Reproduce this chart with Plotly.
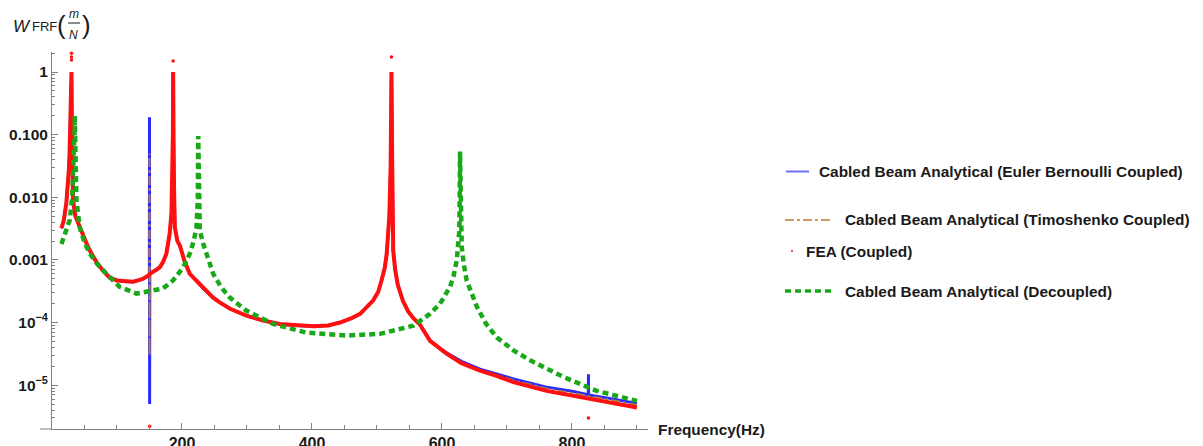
import plotly.graph_objects as go

# ---------------- data ----------------
freq_coupled = [14.5, 18, 22, 24.7, 26, 27, 28.5, 29.5, 30, 30.5, 31.5, 32.4, 36, 42.7, 48, 55.5,
                62, 68.3, 78, 88.9, 100, 114.5, 125, 135, 140, 148, 149.8, 150.0, 150.2, 150.5,
                153, 160, 165.8, 171, 176, 181, 183.8, 185.3, 186, 186.4, 186.8, 187.5, 189,
                193, 196.7, 204, 212, 222, 232.5, 248, 258, 274, 299, 325, 350, 375, 402, 425,
                443, 460, 474, 494, 502, 507, 512, 515, 519, 521, 522.3, 523.5, 525, 528, 532,
                540, 548, 556, 566, 581.6, 595, 607, 630, 658.6, 685, 710, 761, 800, 823,
                825.2, 825.4, 825.6, 860, 900]

euler_vals = [3.2e-3, 4.2e-3, 8.0e-3, 1.66e-2, 0.028, 0.05, 0.16, 0.6, 1.0, 0.2, 0.03, 8.9e-3,
              5.0e-3, 3.3e-3, 2.4e-3, 1.6e-3, 1.2e-3, 9.3e-4, 6.8e-4, 5.2e-4, 4.7e-4, 4.5e-4,
              4.5e-4, 4.8e-4, 5.0e-4, 5.6e-4, 5.7e-4, 0.19, 5.0e-6, 6.0e-4, 6.3e-4, 6.9e-4,
              7.6e-4, 9.3e-4, 1.26e-3, 2.6e-3, 5.5e-3, 0.02, 0.1, 1.0, 0.1, 0.02, 3.3e-3,
              2.0e-3, 1.7e-3, 9.5e-4, 6.0e-4, 4.7e-4, 3.5e-4, 2.5e-4, 2.1e-4, 1.66e-4, 1.29e-4,
              1.08e-4, 9.5e-5, 9.0e-5, 8.7e-5, 9.0e-5, 1.0e-4, 1.16e-4, 1.38e-4, 2.24e-4,
              3.1e-4, 4.7e-4, 7.5e-4, 1.26e-3, 5.0e-3, 0.03, 1.0, 0.03, 1.4e-3, 7.0e-4, 4.0e-4,
              2.2e-4, 1.5e-4, 1.17e-4, 9.3e-5, 5.2e-5, 4.0e-5, 3.3e-5, 2.4e-5, 1.8e-5, 1.5e-5,
              1.26e-5, 9.3e-6, 8.0e-6, 7.1e-6, 7.0e-6, 1.5e-5, 7.0e-6, 6.1e-6, 5.1e-6]

timo_vals = [3.2e-3, 4.2e-3, 8.0e-3, 1.66e-2, 0.028, 0.05, 0.16, 0.6, 1.0, 0.2, 0.03, 8.9e-3,
             5.0e-3, 3.3e-3, 2.4e-3, 1.6e-3, 1.2e-3, 9.3e-4, 6.8e-4, 5.2e-4, 4.7e-4, 4.5e-4,
             4.5e-4, 4.8e-4, 5.0e-4, 5.6e-4, 5.7e-4, 0.05, 3.0e-5, 6.0e-4, 6.3e-4, 6.9e-4,
             7.6e-4, 9.3e-4, 1.26e-3, 2.6e-3, 5.5e-3, 0.02, 0.1, 1.0, 0.1, 0.02, 3.3e-3,
             2.0e-3, 1.7e-3, 9.5e-4, 6.0e-4, 4.7e-4, 3.5e-4, 2.5e-4, 2.1e-4, 1.66e-4, 1.29e-4,
             1.08e-4, 9.5e-5, 9.0e-5, 8.7e-5, 9.0e-5, 1.0e-4, 1.16e-4, 1.38e-4, 2.24e-4,
             3.1e-4, 4.7e-4, 7.5e-4, 1.26e-3, 5.0e-3, 0.03, 1.0, 0.03, 1.4e-3, 7.0e-4, 4.0e-4,
             2.2e-4, 1.5e-4, 1.17e-4, 9.3e-5, 5.1e-5, 3.9e-5, 3.2e-5, 2.3e-5, 1.75e-5, 1.45e-5,
             1.2e-5, 8.8e-6, 7.5e-6, 6.7e-6, 6.6e-6, 6.6e-6, 6.6e-6, 5.8e-6, 4.8e-6]

fea_vals = [3.2e-3, 4.2e-3, 8.0e-3, 1.66e-2, 0.028, 0.05, 0.16, 0.6, 1.0, 0.2, 0.03, 8.9e-3,
            5.0e-3, 3.3e-3, 2.4e-3, 1.6e-3, 1.2e-3, 9.3e-4, 6.8e-4, 5.2e-4, 4.7e-4, 4.5e-4,
            4.5e-4, 4.8e-4, 5.0e-4, 5.6e-4, 5.7e-4, 5.8e-4, 5.9e-4, 6.0e-4, 6.3e-4, 6.9e-4,
            7.6e-4, 9.3e-4, 1.26e-3, 2.6e-3, 5.5e-3, 0.02, 0.1, 1.0, 0.1, 0.02, 3.3e-3,
            2.0e-3, 1.7e-3, 9.5e-4, 6.0e-4, 4.7e-4, 3.5e-4, 2.5e-4, 2.1e-4, 1.66e-4, 1.29e-4,
            1.08e-4, 9.5e-5, 9.0e-5, 8.7e-5, 9.0e-5, 1.0e-4, 1.16e-4, 1.38e-4, 2.24e-4,
            3.1e-4, 4.7e-4, 7.5e-4, 1.26e-3, 5.0e-3, 0.03, 1.0, 0.03, 1.4e-3, 7.0e-4, 4.0e-4,
            2.2e-4, 1.5e-4, 1.17e-4, 9.3e-5, 5.1e-5, 3.9e-5, 3.2e-5, 2.25e-5, 1.7e-5, 1.4e-5,
            1.12e-5, 8.1e-6, 6.8e-6, 6.0e-6, 6.0e-6, 6.0e-6, 6.0e-6, 5.2e-6, 4.4e-6]

fea_outlier_freq = [30, 30, 30, 186.4, 522.3, 150.2, 825.4]
fea_outlier_vals = [2.0, 1.74, 1.55, 1.5, 1.74, 2.2e-6, 3.0e-6]

freq_decoupled = [14.5, 20, 27.3, 31, 33.5, 34.6, 35, 35.4, 36.5, 37.6, 42.7, 50, 58, 70, 83.8, 104,
                  130, 155.5, 171, 186.3, 201.7, 212, 218, 222.3, 224.3, 225, 225.6, 227.4, 232,
                  237.7, 248, 260, 273.6, 299, 340, 391.7, 453, 504.6, 556, 581.6, 597, 612.4,
                  618, 622.7, 626.8, 627.8, 628.5, 630.4, 634, 638, 653.5, 668, 684.3, 710,
                  735.6, 787, 838, 900]
decoupled_vals = [1.8e-3, 2.5e-3, 4.3e-3, 0.01, 0.03, 0.1, 0.2, 0.1, 0.02, 8.9e-3, 3.3e-3, 1.9e-3,
                  1.26e-3, 8.5e-4, 6.0e-4, 3.7e-4, 2.9e-4, 3.2e-4, 3.5e-4, 4.7e-4, 7.6e-4, 1.26e-3,
                  2.0e-3, 3.3e-3, 8.9e-3, 0.095, 0.01, 3.0e-3, 1.9e-3, 1.26e-3, 6.0e-4, 3.7e-4,
                  2.5e-4, 1.55e-4, 9.5e-5, 6.9e-5, 6.2e-5, 6.6e-5, 8.9e-5, 1.38e-4, 2.0e-4,
                  3.7e-4, 5.6e-4, 9.8e-4, 3.0e-3, 0.054, 5.0e-3, 1.6e-3, 8.0e-4, 4.7e-4, 1.8e-4,
                  9.5e-5, 5.8e-5, 3.6e-5, 2.5e-5, 1.35e-5, 8.1e-6, 5.6e-6]

x_tick_vals = [200, 400, 600, 800]
x_minor_vals = [50, 100, 150, 250, 300, 350, 450, 500, 550, 650, 700, 750, 850, 900]
y_tick_vals = [1e-5, 1e-4, 1e-3, 1e-2, 1e-1, 1]
y_tick_text = ["10<sup>\u22125</sup>", "10<sup>\u22124</sup>", "0.001", "0.010", "0.100", "1"]
y_minor_vals = [m * 10 ** e for e in range(-6, 1) for m in range(2, 10)]

legend_labels = ["Cabled Beam Analytical (Euler Bernoulli Coupled)",
                 "Cabled Beam Analytical (Timoshenko Coupled)",
                 "FEA (Coupled)",
                 "Cabled Beam Analytical (Decoupled)"]

# ---------------- layout geometry ----------------
# positions below are page pixels; the page body adds an 8 px offset to the figure
OFF = 8
W, H = 1203, 446
PL, PR, PT, PB = 52 - OFF, 648 - OFF, 52 - OFF, 429 - OFF


def px(x):
    return (x - OFF - PL) / (PR - PL)


def py(y):
    return (PB - (y - OFF)) / (PB - PT)


FONT = "Liberation Sans, Arial, sans-serif"
TXT = "#1a1a1a"
AX = "#808080"
BLUE = "#2a2aff"
BROWN = "#b97a3c"
RED = "#ff1010"
GREEN = "#18a818"

fig = go.Figure()
fig.add_trace(go.Scatter(x=freq_coupled, y=euler_vals, mode="lines",
                         line=dict(color=BLUE, width=3), name=legend_labels[0], showlegend=False))
fig.add_trace(go.Scatter(x=freq_coupled, y=timo_vals, mode="lines",
                         line=dict(color=BROWN, width=2, dash="dashdot"), name=legend_labels[1],
                         showlegend=False))
fig.add_trace(go.Scatter(x=freq_coupled, y=fea_vals, mode="lines",
                         line=dict(color=RED, width=4), name=legend_labels[2], showlegend=False))
fig.add_trace(go.Scatter(x=fea_outlier_freq, y=fea_outlier_vals, mode="markers",
                         marker=dict(color=RED, size=3.5), name=legend_labels[2], showlegend=False,
                         cliponaxis=False))
fig.add_trace(go.Scatter(x=freq_decoupled, y=decoupled_vals, mode="lines",
                         line=dict(color=GREEN, width=4.5, dash="6px,4px"), name=legend_labels[3],
                         showlegend=False))

fig.update_xaxes(range=[0, 917], automargin=False, showline=True, linecolor=AX,
                 linewidth=1, showgrid=False, zeroline=False,
                 tickmode="array", tickvals=x_tick_vals, ticks="inside", ticklen=6,
                 tickcolor=AX, ticklabelstandoff=0,
                 minor=dict(tickmode="array", tickvals=x_minor_vals, ticks="inside", ticklen=4,
                            tickcolor=AX, showgrid=False),
                 tickfont=dict(family=FONT, size=16, color=TXT, weight="bold"))
fig.update_yaxes(type="log", range=[-5.70, 0.32], automargin=False, showline=True,
                 linecolor=AX, linewidth=1, showgrid=False, zeroline=False,
                 tickmode="array", tickvals=y_tick_vals, ticktext=y_tick_text,
                 ticks="inside", ticklen=6, tickcolor=AX, ticklabelstandoff=0,
                 minor=dict(tickmode="array", tickvals=y_minor_vals, ticks="inside", ticklen=3,
                            tickcolor=AX, showgrid=False),
                 tickfont=dict(family=FONT, size=15.5, color=TXT, weight="bold"))

ann = []
shapes = []


def text(x, y, s, size=15.4, bold=True, italic=False, anchor="left"):
    ann.append(dict(x=px(x), y=py(y), xref="paper", yref="paper", text=s, showarrow=False,
                    xanchor=anchor, yanchor="middle", borderpad=0,
                    font=dict(family=FONT, size=size, color=TXT,
                              weight="bold" if bold else "normal",
                              style="italic" if italic else "normal")))


# small extension of the x axis line to the left of the y axis (as in the reference)
shapes.append(dict(type="line", xref="paper", yref="paper", x0=px(40), x1=px(52),
                   y0=py(429), y1=py(429), line=dict(color=AX, width=1)))

# axis label
text(657, 429, "Frequency(Hz)", size=15.4)

# y-axis title: W FRF(m/N)
text(12, 26, "W", size=17, bold=False, italic=True)
text(31, 26, "FRF", size=13, bold=False)
text(61, 25, "(", size=26, bold=False, anchor="center")
text(73.5, 14, "m", size=12, bold=False, italic=True, anchor="center")
text(73.5, 35, "N", size=12, bold=False, italic=True, anchor="center")
text(86, 25, ")", size=26, bold=False, anchor="center")
shapes.append(dict(type="line", xref="paper", yref="paper", x0=px(68), x1=px(80),
                   y0=py(23), y1=py(23), line=dict(color=TXT, width=1)))

# manual legend
shapes.append(dict(type="line", xref="paper", yref="paper", x0=px(786), x1=px(809),
                   y0=py(171.5), y1=py(171.5), line=dict(color="#6e6eff", width=2)))
text(818, 171.5, legend_labels[0])
shapes.append(dict(type="line", xref="paper", yref="paper", x0=px(785), x1=px(832),
                   y0=py(220), y1=py(220), line=dict(color="#cf9a62", width=2, dash="dashdot")))
text(844, 220, legend_labels[1])
shapes.append(dict(type="circle", xref="paper", yref="paper", x0=px(791), x1=px(793),
                   y0=py(250), y1=py(252), fillcolor=RED, line=dict(color=RED, width=0)))
text(805, 251, legend_labels[2])
shapes.append(dict(type="line", xref="paper", yref="paper", x0=px(785), x1=px(833),
                   y0=py(291), y1=py(291), line=dict(color=GREEN, width=3.5, dash="6px,4px")))
text(844, 291, legend_labels[3])

fig.update_layout(width=W, height=H, autosize=False,
                  margin=dict(l=PL, r=W - PR, t=PT, b=H - PB, pad=0),
                  plot_bgcolor="white", paper_bgcolor="white",
                  showlegend=False, annotations=ann, shapes=shapes,
                  font=dict(family=FONT, color=TXT))

fig.write_html("out.html")
